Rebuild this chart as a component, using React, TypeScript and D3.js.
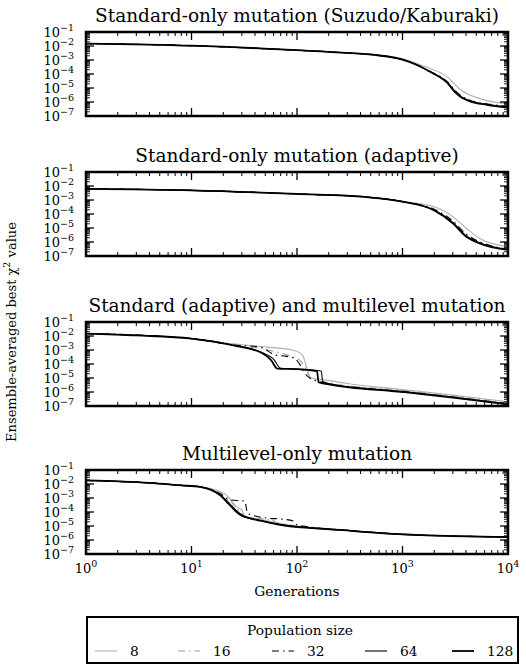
import * as d3 from 'd3'

type Pt = [number, number]

const popSizes = ['8', '16', '32', '64', '128']
const panelTitles = [
  'Standard-only mutation (Suzudo/Kaburaki)',
  'Standard-only mutation (adaptive)',
  'Standard (adaptive) and multilevel mutation',
  'Multilevel-only mutation',
]
const xTickExps = [0, 1, 2, 3, 4]
const yTickExps = [-1, -2, -3, -4, -5, -6, -7]

// panel 1: Suzudo/Kaburaki
const p1Gens = [1, 10, 100, 300, 600, 1000, 1370, 1820, 2630, 3250, 3660, 4360, 6300, 10000]
const p1Pop8 = [1.5e-2, 1.05e-2, 5.0e-3, 3.3e-3, 2.3e-3, 1.2e-3, 5.6e-4, 2.5e-4, 6.5e-5, 1.4e-5, 6.3e-6, 3.2e-6, 1.26e-6, 7.6e-7]
const p1Pop16 = [1.5e-2, 1.05e-2, 5.0e-3, 3.2e-3, 2.2e-3, 1.1e-3, 4.8e-4, 1.6e-4, 3.2e-5, 5.6e-6, 2.6e-6, 1.4e-6, 7.9e-7, 5.2e-7]
const p1Pop32 = [1.5e-2, 1.05e-2, 5.0e-3, 3.2e-3, 2.2e-3, 1.1e-3, 4.6e-4, 1.55e-4, 2.9e-5, 5.0e-6, 2.4e-6, 1.3e-6, 7.2e-7, 4.8e-7]
const p1Pop64 = [1.5e-2, 1.05e-2, 5.0e-3, 3.2e-3, 2.1e-3, 1.07e-3, 4.5e-4, 1.5e-4, 2.7e-5, 4.5e-6, 2.2e-6, 1.2e-6, 6.8e-7, 4.4e-7]
const p1Pop128 = [1.5e-2, 1.05e-2, 5.0e-3, 3.2e-3, 2.1e-3, 1.07e-3, 4.4e-4, 1.45e-4, 2.5e-5, 4.0e-6, 2.0e-6, 1.12e-6, 6.3e-7, 4.0e-7]

// panel 2: adaptive
const p2Gens = [1, 10, 100, 460, 1000, 2000, 3000, 4000, 5400, 10000]
const p2Pop8 = [6.3e-3, 4.9e-3, 2.7e-3, 1.6e-3, 7.9e-4, 3.3e-4, 6.5e-5, 1.0e-5, 1.8e-6, 4.7e-7]
const p2Pop16 = [6.3e-3, 4.9e-3, 2.7e-3, 1.6e-3, 7.8e-4, 2.3e-4, 3.5e-5, 4.0e-6, 1.1e-6, 3.2e-7]
const p2Pop32 = [6.3e-3, 4.9e-3, 2.7e-3, 1.6e-3, 7.8e-4, 2.1e-4, 3.0e-5, 3.5e-6, 1.0e-6, 3.0e-7]
const p2Pop64 = [6.3e-3, 4.9e-3, 2.7e-3, 1.6e-3, 7.6e-4, 1.9e-4, 2.5e-5, 2.8e-6, 8.5e-7, 2.8e-7]
const p2Pop128 = [6.3e-3, 4.9e-3, 2.7e-3, 1.6e-3, 7.6e-4, 1.8e-4, 2.2e-5, 2.5e-6, 7.9e-7, 2.7e-7]

// panel 3: adaptive + multilevel
const p3Pop8: Pt[] = [[1, 1.5e-2], [10, 6.6e-3], [25, 2.8e-3], [52, 1.6e-3], [93, 9.5e-4], [113, 4.2e-4], [123, 6.3e-5], [135, 1.0e-5], [190, 7.1e-6], [300, 4.0e-6], [1000, 1.5e-6], [3000, 6.0e-7], [10000, 2.0e-7]]
const p3Pop16: Pt[] = [[1, 1.5e-2], [10, 6.5e-3], [25, 2.4e-3], [50, 1.1e-3], [80, 4.5e-4], [105, 2.0e-4], [120, 5.0e-5], [135, 1.0e-5], [200, 4.5e-6], [1000, 1.3e-6], [3000, 5.0e-7], [10000, 1.7e-7]]
const p3Pop32: Pt[] = [[1, 1.5e-2], [10, 6.5e-3], [25, 2.3e-3], [45, 1.6e-3], [62, 4.4e-4], [80, 3.5e-4], [95, 2.5e-4], [107, 8.5e-5], [117, 2.5e-5], [125, 1.4e-5], [165, 5.1e-6], [200, 3.6e-6], [1000, 1.05e-6], [3000, 4.2e-7], [10000, 1.4e-7]]
const p3Pop64: Pt[] = [[1, 1.5e-2], [10, 6.5e-3], [25, 2.2e-3], [46, 7.0e-4], [60, 2.2e-4], [70, 5.0e-5], [100, 4.4e-5], [170, 3.2e-5], [175, 5.6e-6], [200, 4.0e-6], [1000, 1.1e-6], [3000, 4.3e-7], [10000, 1.4e-7]]
const p3Pop128: Pt[] = [[1, 1.5e-2], [3, 1.1e-2], [10, 6.5e-3], [25, 2.1e-3], [46, 6.3e-4], [57, 1.8e-4], [65, 4.7e-5], [100, 4.3e-5], [155, 3.0e-5], [160, 5.0e-6], [200, 3.5e-6], [1000, 1.0e-6], [3000, 4.0e-7], [10000, 1.3e-7]]

// panel 4: multilevel only
const p4Pop8: Pt[] = [[1, 1.8e-2], [4, 1.2e-2], [8, 8.3e-3], [12, 6.5e-3], [18.6, 2.9e-3], [23, 9.5e-4], [25, 3.2e-4], [30, 1.4e-4], [32, 4.7e-5], [45, 3.0e-5], [69, 1.5e-5], [256, 5.6e-6], [1000, 2.7e-6], [3000, 2.0e-6], [10000, 1.7e-6]]
const p4Pop16: Pt[] = [[1, 1.8e-2], [4, 1.2e-2], [8, 8.2e-3], [12, 6.4e-3], [18.6, 2.4e-3], [24, 6.0e-4], [29, 1.0e-4], [34, 4.2e-5], [55, 3.0e-5], [70, 1.4e-5], [256, 5.3e-6], [1000, 2.6e-6], [3000, 1.95e-6], [10000, 1.65e-6]]
const p4Pop32: Pt[] = [[1, 1.8e-2], [4, 1.2e-2], [8, 8.0e-3], [12, 6.3e-3], [18.6, 2.0e-3], [23, 7.5e-4], [32, 6.0e-4], [34, 7.9e-5], [55, 3.5e-5], [69, 3.2e-5], [92, 2.3e-5], [100, 1.2e-5], [256, 5.4e-6], [1000, 2.6e-6], [3000, 1.95e-6], [10000, 1.65e-6]]
const p4Pop64: Pt[] = [[1, 1.8e-2], [4, 1.2e-2], [8, 8.0e-3], [12, 6.3e-3], [18.6, 1.8e-3], [23, 4.0e-4], [27.6, 1.0e-4], [32, 4.5e-5], [45, 2.5e-5], [69, 1.3e-5], [256, 5.3e-6], [1000, 2.5e-6], [3000, 1.9e-6], [10000, 1.6e-6]]
const p4Pop128: Pt[] = [[1, 1.8e-2], [4, 1.2e-2], [8, 8.0e-3], [12, 6.3e-3], [18.6, 1.6e-3], [23, 3.2e-4], [27.6, 8.0e-5], [30, 5.5e-5], [36, 3.5e-5], [45, 2.4e-5], [69, 1.2e-5], [256, 5.2e-6], [1000, 2.5e-6], [3000, 1.9e-6], [10000, 1.6e-6]]

const zip = (gens: number[], vals: number[]): Pt[] => gens.map((g, i) => [g, vals[i]])

const panels: Pt[][][] = [
  [zip(p1Gens, p1Pop8), zip(p1Gens, p1Pop16), zip(p1Gens, p1Pop32), zip(p1Gens, p1Pop64), zip(p1Gens, p1Pop128)],
  [zip(p2Gens, p2Pop8), zip(p2Gens, p2Pop16), zip(p2Gens, p2Pop32), zip(p2Gens, p2Pop64), zip(p2Gens, p2Pop128)],
  [p3Pop8, p3Pop16, p3Pop32, p3Pop64, p3Pop128],
  [p4Pop8, p4Pop16, p4Pop32, p4Pop64, p4Pop128],
]

const styles = [
  { color: '#b0b0b0', width: 1.1, dash: undefined },
  { color: '#a0a0a0', width: 1.1, dash: '7,4,1.5,4' },
  { color: '#000', width: 1.1, dash: '7,4,1.5,4' },
  { color: '#000', width: 1.1, dash: undefined },
  { color: '#000', width: 1.8, dash: undefined },
]

const W = 526
const H = 668
const left = 86
const right = 508
const panelTops = [32, 172, 322, 470]
const panelH = 84
const font = 'DejaVu Serif'

const x = d3.scaleLog().domain([1, 1e4]).range([left, right])

// minor tick positions (2..9 in each decade)
const minorsOf = (lo: number, hi: number) => {
  const out: number[] = []
  for (let e = lo; e < hi; e++) for (let m = 2; m <= 9; m++) out.push(m * 10 ** e)
  return out
}
const xMinor = minorsOf(0, 4)
const yMinor = minorsOf(-7, -1)

function Panel({ idx }: { idx: number }) {
  const top = panelTops[idx]
  const bottom = top + panelH
  const y = d3.scaleLog().domain([1e-7, 1e-1]).range([bottom, top])
  const line = d3.line<Pt>().x(d => x(d[0])).y(d => y(d[1])).curve(d3.curveMonotoneX)
  const clipId = `clip${idx}`
  return (
    <g>
      <defs>
        <clipPath id={clipId}>
          <rect x={left} y={top} width={right - left} height={panelH} />
        </clipPath>
      </defs>
      <text x={(left + right) / 2} y={top - 10} textAnchor="middle" fontSize={18.5} fontFamily={font}>
        {panelTitles[idx]}
      </text>
      <g clipPath={`url(#${clipId})`}>
        {panels[idx].map((s, i) => (
          <path key={i} d={line(s) ?? ''} fill="none" stroke={styles[i].color}
            strokeWidth={styles[i].width} strokeDasharray={styles[i].dash} />
        ))}
      </g>
      {/* x ticks, inward on top and bottom */}
      {xTickExps.map(e => {
        const px = x(10 ** e)
        return (
          <g key={'xM' + e} stroke="#000" strokeWidth={1.3}>
            <line x1={px} x2={px} y1={bottom} y2={bottom - 8} />
            <line x1={px} x2={px} y1={top} y2={top + 8} />
          </g>
        )
      })}
      {xMinor.map((v, i) => {
        const px = x(v)
        return (
          <g key={'xm' + i} stroke="#000" strokeWidth={1}>
            <line x1={px} x2={px} y1={bottom} y2={bottom - 4} />
            <line x1={px} x2={px} y1={top} y2={top + 4} />
          </g>
        )
      })}
      {/* y ticks, inward on left and right */}
      {yTickExps.map(e => {
        const py = y(10 ** e)
        return (
          <g key={'yM' + e}>
            <line x1={left} x2={left + 8} y1={py} y2={py} stroke="#000" strokeWidth={1.3} />
            <line x1={right} x2={right - 8} y1={py} y2={py} stroke="#000" strokeWidth={1.3} />
            <text x={74} y={py + 5} textAnchor="end" fontSize={13} fontFamily={font}>
              10<tspan dy={-6.5} fontSize={9.5}>{'\u2212' + -e}</tspan>
            </text>
          </g>
        )
      })}
      {yMinor.map((v, i) => {
        const py = y(v)
        return (
          <g key={'ym' + i} stroke="#000" strokeWidth={0.9}>
            <line x1={left} x2={left + 4} y1={py} y2={py} />
            <line x1={right} x2={right - 4} y1={py} y2={py} />
          </g>
        )
      })}
      <rect x={left} y={top} width={right - left} height={panelH} fill="none" stroke="#000" strokeWidth={2.5} />
      {idx === panelTops.length - 1 &&
        xTickExps.map(e => (
          <text key={'xl' + e} x={x(10 ** e)} y={bottom + 19} textAnchor="middle" fontSize={13} fontFamily={font}>
            10<tspan dy={-6.5} fontSize={9.5}>{e}</tspan>
          </text>
        ))}
    </g>
  )
}

const legendLeft = 87
const legendRight = 518
const legendTop = 617
const legendBottom = 663
const legendHandleX = [95, 178, 272, 365, 452]

export default function App() {
  return (
    <svg width={W} height={H} style={{ position: 'absolute', left: 0, top: 0, background: '#fff' }}>
      {panelTops.map((_, i) => <Panel key={i} idx={i} />)}
      <text x={(left + right) / 2} y={596} textAnchor="middle" fontSize={13.8} fontFamily={font}>Generations</text>
      <text transform={`translate(16, 332) rotate(-90)`} textAnchor="middle" fontSize={13} fontFamily={font}>
        Ensemble-averaged best χ<tspan dy={-6} fontSize={9.5}>2</tspan><tspan dy={6}> value</tspan>
      </text>
      <rect x={legendLeft} y={legendTop} width={legendRight - legendLeft} height={legendBottom - legendTop}
        fill="#fff" stroke="#000" strokeWidth={2} />
      <text x={300} y={635} textAnchor="middle" fontSize={13.8} fontFamily={font}>Population size</text>
      {popSizes.map((p, i) => (
        <g key={p}>
          <line x1={legendHandleX[i]} x2={legendHandleX[i] + 22} y1={651} y2={651} stroke={styles[i].color}
            strokeWidth={styles[i].width} strokeDasharray={styles[i].dash} />
          <text x={legendHandleX[i] + 35} y={656} fontSize={13.8} fontFamily={font}>{p}</text>
        </g>
      ))}
    </svg>
  )
}
